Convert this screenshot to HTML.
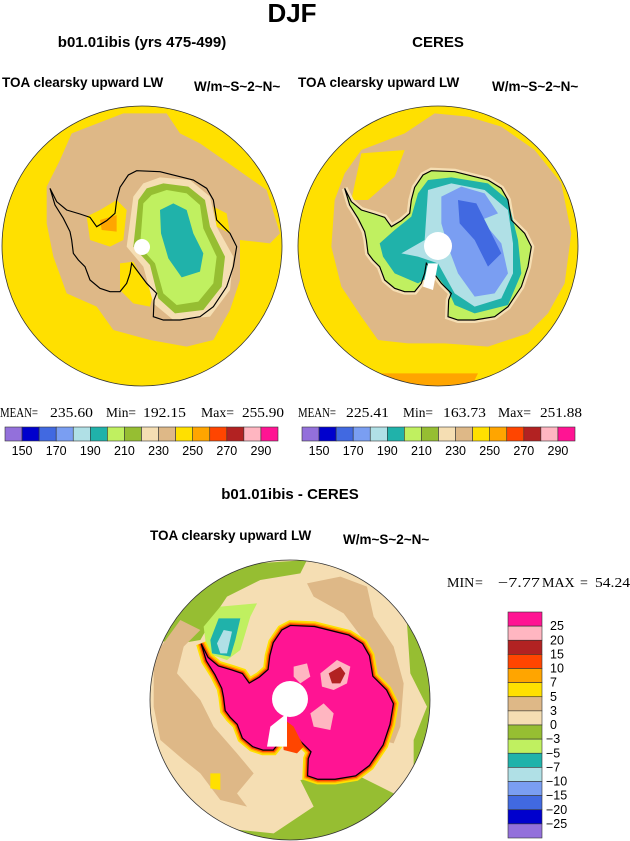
<!DOCTYPE html>
<html><head><meta charset="utf-8">
<style>
html,body{margin:0;padding:0;background:#fff;}
svg{display:block;}
.b{font-family:"Liberation Sans",sans-serif;font-weight:bold;fill:#000;}
.s{font-family:"Liberation Serif",serif;fill:#000;font-size:14px;}
.l{font-family:"Liberation Sans",sans-serif;fill:#000;font-size:12.5px;}
</style></head>
<body>
<svg id="fig" width="630" height="841" viewBox="0 0 630 841" xmlns="http://www.w3.org/2000/svg">
<defs>
  <clipPath id="c1"><circle cx="142" cy="246" r="140"/></clipPath>
  <clipPath id="c2"><circle cx="438" cy="246" r="140"/></clipPath>
  <clipPath id="c3"><circle cx="290" cy="700" r="140"/></clipPath>
  <path id="ant" d="M150,265 L170,305 L200,330 L240,342 L270,352 L290,380 L320,362 L345,340 L350,300 L360,262 L385,225 L410,212 L480,215 L540,230 L580,240 L620,265 L640,300 L650,360 L690,400 L710,440 L700,500 L680,560 L640,620 L600,650 L540,660 L490,660 L460,650 L462,600 L470,580 L440,550 L410,510 L395,490 L390,520 L380,550 L360,575 L330,575 L300,565 L270,540 L255,500 L235,480 L220,460 L215,420 L210,395 L190,355 L165,315 Z"/>
</defs>

<text class="b" x="292" y="22" font-size="26" text-anchor="middle">DJF</text>
<text class="b" x="142" y="47" font-size="15" text-anchor="middle">b01.01ibis (yrs 475-499)</text>
<text class="b" x="438" y="47" font-size="15" text-anchor="middle">CERES</text>
<text class="b" x="2" y="87" font-size="13.5">TOA clearsky upward LW</text>
<text class="b" x="194" y="91" font-size="13.5">W/m~S~2~N~</text>
<text class="b" x="298" y="87" font-size="13.5">TOA clearsky upward LW</text>
<text class="b" x="492" y="91" font-size="13.5">W/m~S~2~N~</text>

<!-- Left map -->
<g clip-path="url(#c1)">
  <circle cx="142" cy="246" r="140" fill="#FFE000"/>
  <g transform="translate(142,246) scale(0.3333) translate(-426,-438)">
    <path d="M0,560 L60,700 L130,760 L0,800Z" fill="#FFA500"/>
    <path d="M215,100 L370,40 L500,40 L540,100 L600,130 L700,200 L800,270 L840,400 L810,430 L720,420 L720,540 L690,630 L640,720 L560,740 L450,720 L340,690 L290,620 L200,580 L160,470 L140,370 L140,260 L180,180Z" fill="#DEB887"/>
    <path d="M260,350 L300,330 L350,300 L380,330 L370,420 L330,440 L270,420Z" fill="#FFE000"/>
    <path d="M300,360 L350,345 L350,395 L305,390Z" fill="#FFA500"/>
    <path d="M360,490 L400,485 L430,540 L460,580 L450,620 L400,610 L360,570Z" fill="#FFE000"/>
    <path d="M640,320 L680,340 L690,400 L650,380Z" fill="#FFE000"/>
    <path d="M380,440 L400,290 L430,250 L480,232 L570,240 L630,290 L650,380 L700,470 L690,570 L630,650 L520,660 L460,610 L430,500Z" fill="#F5DEB3"/>
    <path d="M400,440 L415,300 L440,265 L490,250 L565,260 L615,300 L630,380 L675,470 L665,560 L610,630 L525,640 L475,595 L450,495Z" fill="#96BE32"/>
    <path d="M420,440 L430,310 L455,285 L500,270 L560,280 L600,315 L610,385 L650,470 L640,550 L595,605 L530,615 L490,580 L465,490Z" fill="#C0F060"/>
    <path d="M480,330 L520,310 L560,330 L580,400 L610,460 L600,515 L545,532 L505,475 L483,400Z" fill="#20B2AA"/>
    <use href="#ant" fill="none" stroke="#000" stroke-width="3.5"/>
  </g>
  <circle cx="142" cy="247" r="8" fill="#fff"/>
</g>
<circle cx="142" cy="246" r="140" fill="none" stroke="#333" stroke-width="0.8"/>

<!-- Right map -->
<g clip-path="url(#c2)">
  <circle cx="438" cy="246" r="140" fill="#FFE000"/>
  <g transform="translate(438,246) scale(0.3333) translate(-430,-438)">
    <path d="M250,820 L550,820 L520,880 L270,880Z" fill="#FFA500"/>
    <path d="M200,150 L330,100 L420,40 L520,50 L620,80 L720,150 L800,250 L830,400 L810,550 L760,640 L700,700 L580,740 L450,730 L340,730 L250,720 L200,650 L140,560 L110,440 L120,300 L150,220Z" fill="#DEB887"/>
    <path d="M200,160 L330,150 L300,230 L220,300 L170,300Z" fill="#FFE000"/>
    <use href="#ant" fill="#F5DEB3" stroke="#F5DEB3" stroke-width="18"/>
    <use href="#ant" fill="#C0F060"/>
    <path d="M255,430 L300,390 L350,350 L370,280 L400,240 L470,232 L580,250 L640,300 L670,420 L680,520 L640,615 L540,640 L480,615 L460,570 L420,520 L370,550 L300,520 L265,470Z" fill="#20B2AA"/>
    <path d="M320,460 L390,420 L400,270 L470,250 L570,270 L640,330 L655,430 L655,520 L620,595 L540,620 L480,580 L430,490 L370,470Z" fill="#B0E0E6"/>
    <path d="M440,290 L500,260 L570,280 L610,340 L560,360 L620,430 L640,520 L600,580 L540,590 L490,520 L460,440 L440,370Z" fill="#7A9EF2"/>
    <path d="M490,300 L545,310 L580,380 L620,460 L580,500 L540,420 L495,370Z" fill="#4169E1"/>
    <use href="#ant" fill="none" stroke="#000" stroke-width="3.5"/>
    <path d="M400,490 L430,490 L415,570 L385,560Z" fill="#fff"/>
  </g>
  <circle cx="438" cy="246" r="14" fill="#fff"/>
</g>
<circle cx="438" cy="246" r="140" fill="none" stroke="#333" stroke-width="0.8"/>

<g>
  <text class="s" x="0" y="417" textLength="38" lengthAdjust="spacingAndGlyphs">MEAN=</text>
  <text class="s" x="50" y="417" textLength="43" lengthAdjust="spacingAndGlyphs">235.60</text>
  <text class="s" x="106" y="417" textLength="30" lengthAdjust="spacingAndGlyphs">Min=</text>
  <text class="s" x="143" y="417" textLength="43" lengthAdjust="spacingAndGlyphs">192.15</text>
  <text class="s" x="201" y="417" textLength="33" lengthAdjust="spacingAndGlyphs">Max=</text>
  <text class="s" x="242" y="417" textLength="42" lengthAdjust="spacingAndGlyphs">255.90</text>
</g>
<g>
  <text class="s" x="298" y="417" textLength="38" lengthAdjust="spacingAndGlyphs">MEAN=</text>
  <text class="s" x="346" y="417" textLength="43" lengthAdjust="spacingAndGlyphs">225.41</text>
  <text class="s" x="403" y="417" textLength="30" lengthAdjust="spacingAndGlyphs">Min=</text>
  <text class="s" x="443" y="417" textLength="43" lengthAdjust="spacingAndGlyphs">163.73</text>
  <text class="s" x="498" y="417" textLength="33" lengthAdjust="spacingAndGlyphs">Max=</text>
  <text class="s" x="540" y="417" textLength="42" lengthAdjust="spacingAndGlyphs">251.88</text>
</g>
<g id="cbL"></g>
<g id="cbR"></g>

<text class="b" x="290" y="499" font-size="15" text-anchor="middle">b01.01ibis - CERES</text>
<text class="b" x="150" y="540" font-size="13.5">TOA clearsky upward LW</text>
<text class="b" x="343" y="544" font-size="13.5">W/m~S~2~N~</text>
<g>
  <text class="s" x="447" y="587">MIN</text>
  <text class="s" x="475" y="587">=</text>
  <text class="s" x="498" y="587" textLength="42" lengthAdjust="spacingAndGlyphs">&#8722;7.77</text>
  <text class="s" x="542" y="587">MAX</text>
  <text class="s" x="580" y="587">=</text>
  <text class="s" x="595" y="587" textLength="35" lengthAdjust="spacingAndGlyphs">54.24</text>
</g>

<!-- Difference map -->
<g clip-path="url(#c3)">
  <circle cx="290" cy="700" r="140" fill="#F5DEB3"/>
  <g transform="translate(290,700) scale(0.3333) translate(-449,-480)">
    <path d="M30,300 L100,170 L200,100 L350,70 L500,60 L480,100 L360,120 L260,170 L220,230 L180,300 L120,310Z" fill="#96BE32"/>
    <path d="M190,260 L240,200 L350,190 L330,230 L300,330 L260,360 L200,340Z" fill="#C0F060"/>
    <path d="M210,300 L235,235 L300,235 L285,300 L270,350 L215,340Z" fill="#20B2AA"/>
    <path d="M230,310 L250,270 L275,275 L260,340 L240,340Z" fill="#B0E0E6"/>
    <path d="M800,250 L870,300 L880,700 L820,690 L820,600 L860,500 L810,400Z" fill="#96BE32"/>
    <path d="M480,720 L640,700 L760,760 L880,790 L880,900 L100,900 L200,860 L400,880 L520,800Z" fill="#96BE32"/>
    <path d="M40,350 L120,240 L180,270 L130,320 L110,400 L180,480 L220,560 L290,640 L340,700 L290,760 L320,800 L240,780 L180,700 L130,660 L60,600 L40,500Z" fill="#DEB887"/>
    <path d="M500,130 L600,110 L680,140 L700,230 L760,320 L790,430 L780,560 L760,610 L720,600 L740,520 L720,420 L670,300 L610,220 L520,170Z" fill="#DEB887"/>
    <path d="M210,700 L240,700 L240,750 L210,745Z" fill="#FFE000"/>
    <g transform="translate(28,38) scale(1.03)">
      <use href="#ant" fill="#FFE000" stroke="#FFE000" stroke-width="30"/>
      <use href="#ant" fill="#FFA500" stroke="#FFA500" stroke-width="20"/>
      <use href="#ant" fill="#FF4500" stroke="#FF4500" stroke-width="12"/>
      <use href="#ant" fill="#B22222" stroke="#B22222" stroke-width="5"/>
      <use href="#ant" fill="#FF1493"/>
      <use href="#ant" fill="none" stroke="#000" stroke-width="3.5"/>
    </g>
    <path d="M540,400 L590,360 L630,380 L620,430 L580,450 L545,440Z" fill="#FFB6C1"/>
    <path d="M565,400 L600,380 L615,400 L600,430 L575,430Z" fill="#B22222"/>
    <path d="M460,380 L500,370 L510,410 L480,430 L460,410Z" fill="#FFB6C1"/>
    <path d="M510,520 L550,490 L580,520 L570,570 L520,560Z" fill="#FFB6C1"/>
    <path d="M420,530 L460,560 L490,620 L470,640 L430,630Z" fill="#FF4500"/>
    <path d="M390,560 L440,520 L440,620 L380,620Z" fill="#fff"/>
  </g>
  <circle cx="290" cy="699" r="18" fill="#fff"/>
</g>
<circle cx="290" cy="700" r="140" fill="none" stroke="#333" stroke-width="0.8"/>
<g id="cbV"></g>
</svg>
<script>
const absColors = ["#9370DB","#0000CD","#4169E1","#7A9EF2","#B0E0E6","#20B2AA","#C0F060","#96BE32","#F5DEB3","#DEB887","#FFE000","#FFA500","#FF4500","#B22222","#FFB6C1","#FF1493"];
const absTicks = ["150","170","190","210","230","250","270","290"];
const diffColors = ["#FF1493","#FFB6C1","#B22222","#FF4500","#FFA500","#FFE000","#DEB887","#F5DEB3","#96BE32","#C0F060","#20B2AA","#B0E0E6","#7A9EF2","#4169E1","#0000CD","#9370DB"];
const diffTicks = ["25","20","15","10","7","5","3","0","\u22123","\u22125","\u22127","\u221210","\u221215","\u221220","\u221225"];
const NS = "http://www.w3.org/2000/svg";
function hbar(id, x0, x1, y, h) {
  const g = document.getElementById(id);
  const w = (x1 - x0) / absColors.length;
  absColors.forEach((c, i) => {
    const r = document.createElementNS(NS, "rect");
    r.setAttribute("x", x0 + i * w); r.setAttribute("y", y);
    r.setAttribute("width", w); r.setAttribute("height", h);
    r.setAttribute("fill", c); r.setAttribute("stroke", "#333"); r.setAttribute("stroke-width", "0.6");
    
    
    g.appendChild(r);
  });
  absTicks.forEach((t, i) => {
    const tx = document.createElementNS(NS, "text");
    tx.setAttribute("x", x0 + (1 + 2 * i) * w); tx.setAttribute("y", y + h + 14);
    tx.setAttribute("text-anchor", "middle"); tx.setAttribute("class", "l");
    tx.textContent = t;
    
    
    g.appendChild(tx);
  });
}
hbar("cbL", 5, 278, 427, 14);
hbar("cbR", 302, 575, 427, 14);
(function () {
  const g = document.getElementById("cbV");
  const y0 = 612, y1 = 838, x = 508, w = 34;
  const h = (y1 - y0) / diffColors.length;
  diffColors.forEach((c, i) => {
    const r = document.createElementNS(NS, "rect");
    r.setAttribute("x", x); r.setAttribute("y", y0 + i * h);
    r.setAttribute("width", w); r.setAttribute("height", h);
    r.setAttribute("fill", c); r.setAttribute("stroke", "#333"); r.setAttribute("stroke-width", "0.6");
    
    
    g.appendChild(r);
  });
  diffTicks.forEach((t, i) => {
    const tx = document.createElementNS(NS, "text");
    tx.setAttribute("x", t.charAt(0) === "\u2212" ? 546 : 550);
    tx.setAttribute("y", y0 + (i + 1) * h + 4);
    tx.setAttribute("class", "l");
    tx.textContent = t;
    
    
    g.appendChild(tx);
  });
})();
</script>
</body></html>
